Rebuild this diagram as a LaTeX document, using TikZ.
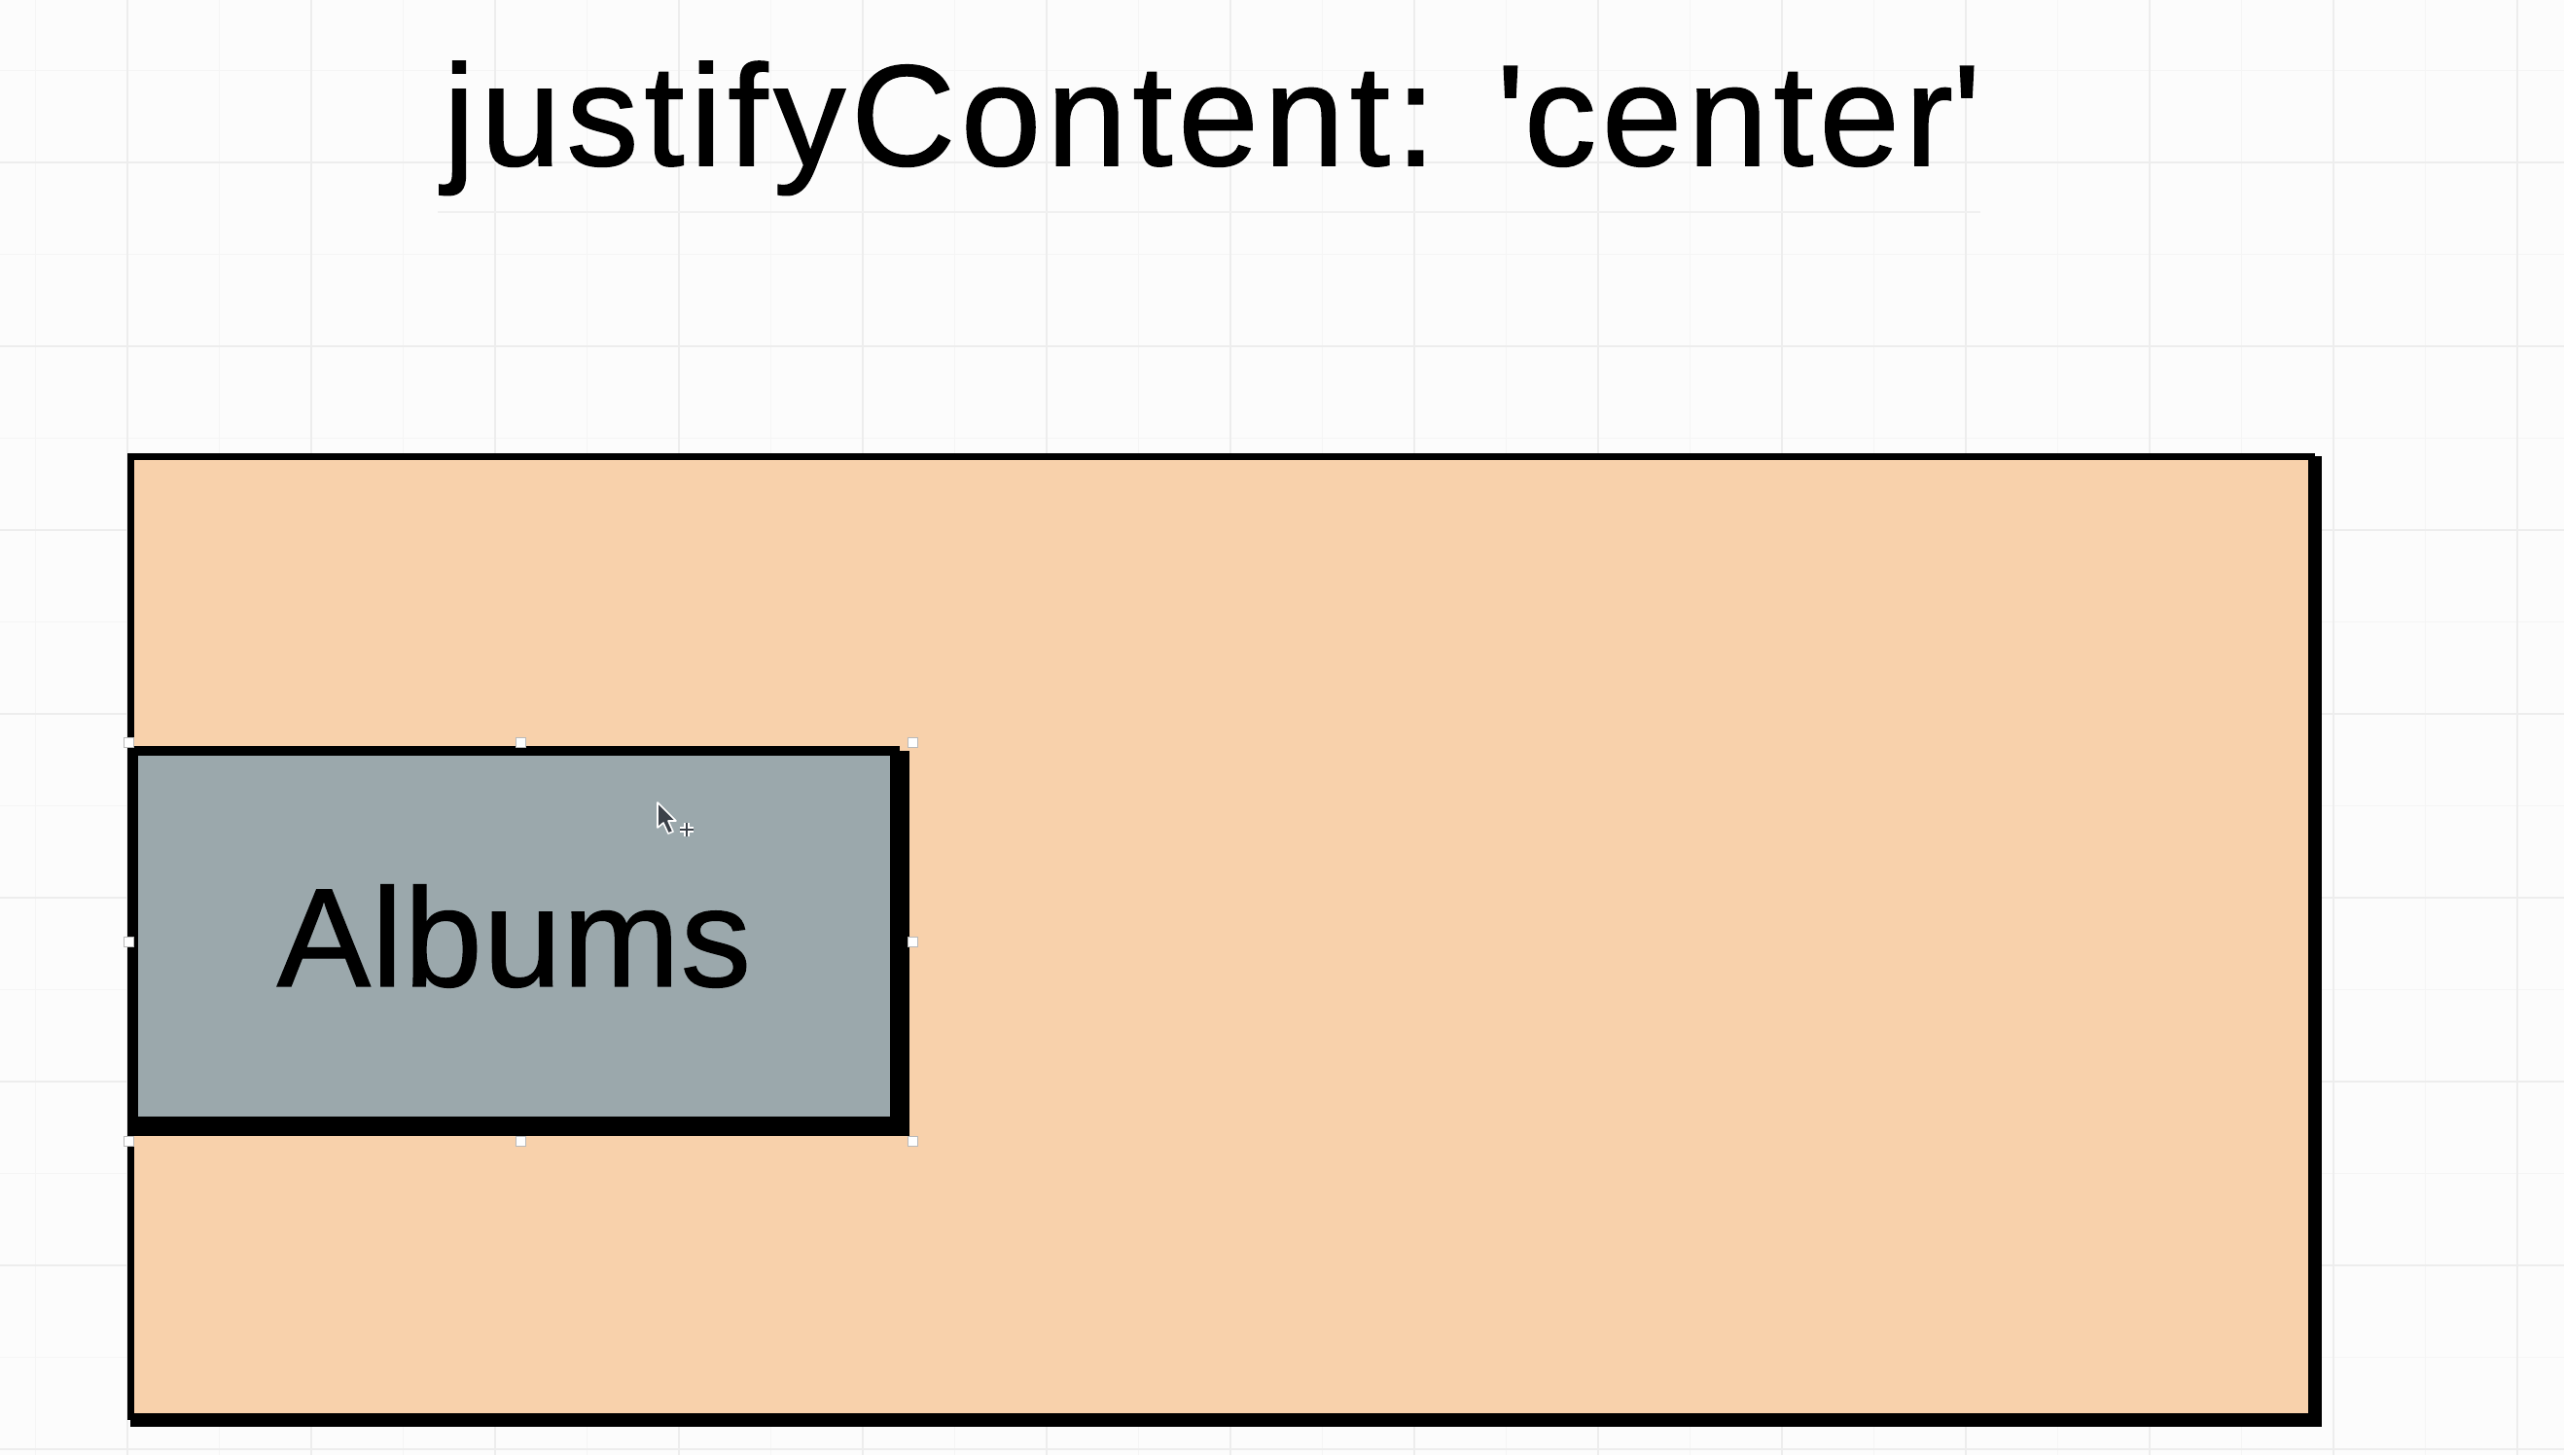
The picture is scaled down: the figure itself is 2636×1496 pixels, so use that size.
\documentclass[tikz,border=0pt]{standalone}
\usepackage{fontspec}
\setmainfont{Liberation Sans}
\newfontfamily\sketchfont{Liberation Sans}[FakeBold=1.0, LetterSpace=4, Ligatures=NoCommon]
\newfontfamily\albumfont{Liberation Sans}[FakeBold=1.0, LetterSpace=1, Ligatures=NoCommon]
\definecolor{peach}{HTML}{F8D1AB}
\definecolor{slate}{HTML}{9BA8AC}
\definecolor{gridmajor}{HTML}{EDEDED}
\definecolor{gridminor}{HTML}{F5F5F5}
\definecolor{cursorgray}{HTML}{3B4149}
\tikzset{
  flexbox/.style={draw=black, rectangle, inner sep=0pt, outer sep=0pt},
  handle/.style={draw=gray!55, fill=white, line width=0.5pt, minimum size=5pt, inner sep=0pt},
}

\begin{document}
\begin{tikzpicture}[x=0.5pt,y=-0.5pt]
\useasboundingbox (0,0) rectangle (2636,1496);

%Background and grid
\fill[white!99!black] (0,0) rectangle (2636,1496);
\foreach \gx in {36.5,225.5,...,2636} \draw[gridminor, line width=0.6pt] (\gx,0) -- (\gx,1496);
\foreach \gy in {72.5,261.5,...,1496} \draw[gridminor, line width=0.6pt] (0,\gy) -- (2636,\gy);
\foreach \gx in {131,320,...,2636} \draw[gridmajor, line width=1pt] (\gx,0) -- (\gx,1496);
\foreach \gy in {167,356,...,1496} \draw[gridmajor, line width=1pt] (0,\gy) -- (2636,\gy);

% Text Node
\node[font=\sketchfont\fontsize{74}{90}\selectfont, anchor=base, inner sep=0pt] (title) at (1246,170) {justifyContent: \textquotesingle center\textquotesingle};
%Straight Lines
\draw[gray!12, line width=0.8pt] (450,218) -- (2036,218);

%Shape: Rectangle (container)
\node[flexbox, fill=peach, line width=3.5pt, minimum width=1121pt, minimum height=493.5pt] (container) at (1255,962.5) {};
\draw[line width=4pt] ([xshift=3.5pt]container.north east) -- ([xshift=3.5pt,yshift=-3.5pt]container.south east) -- ([yshift=-3.5pt]container.south west);

%Shape: Rectangle (child)
\node[flexbox, fill=slate, line width=5pt, minimum width=391.5pt, minimum height=190.5pt, font=\albumfont\fontsize{72}{80}\selectfont] (albums) at (528.5,962.5) {Albums};
\draw[line width=5pt] ([xshift=5pt]albums.north east) -- ([xshift=5pt,yshift=-5pt]albums.south east) -- ([yshift=-5pt]albums.south west);

%Selection handles
\foreach \hx/\hy [count=\i] in {132/763,535/763,938/763,938/968,938/1173,535/1173,132/1173,132/968}
  \node[handle] (handle\i) at (\hx,\hy) {};

%Cursor
\draw[white, fill=cursorgray, line width=0.8pt, line join=round] (676,825) -- (676,851) -- (682,846) -- (687,857) -- (692,855) -- (687,844) -- (695,844) -- cycle;
\draw[white, line width=3pt] (699,853) -- (713,853) (706,846) -- (706,860);
\draw[cursorgray, line width=1pt] (699,853) -- (713,853) (706,846) -- (706,860);
\end{tikzpicture}
\end{document}
